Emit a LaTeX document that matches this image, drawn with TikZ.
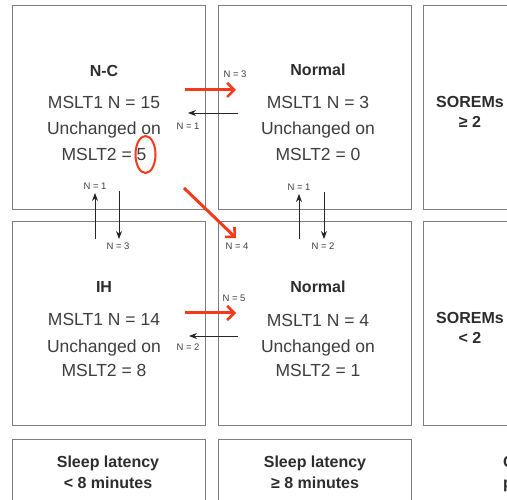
\documentclass[tikz,border=0pt]{standalone}
\usepackage{fontspec}
\setmainfont{Liberation Sans}
\usetikzlibrary{arrows.meta}
\definecolor{boxc}{RGB}{125,125,125}
\definecolor{txt}{RGB}{62,62,62}
\definecolor{ttlc}{RGB}{45,45,45}
\definecolor{redc}{RGB}{245,58,28}
\begin{document}
\begin{tikzpicture}[x=1pt,y=-1pt,
 cell/.style={draw=boxc,line width=1pt},
 ttl/.style={font=\fontsize{16}{18}\selectfont\bfseries,text=ttlc,anchor=base,inner sep=0pt},
 body/.style={font=\fontsize{17.5}{20}\selectfont,text=txt,anchor=base,inner sep=0pt},
 lbl/.style={font=\fontsize{9.5}{10}\selectfont,text=txt,anchor=base,inner sep=0pt},
 redarr/.style={draw=redc,line width=3pt,-{Straight Barb[length=7pt,width=14pt,line width=2.6pt]}},
 blkarr/.style={draw=black!85,line width=0.8pt,-{Stealth[length=8pt,width=6pt]}}]
\useasboundingbox (0,0) rectangle (507,500);
\fill[white] (0,0) rectangle (507,500);
% cells
\draw[cell] (12,6) rectangle (205,210);
\draw[cell] (218,6) rectangle (411,210);
\draw[cell] (423,6) rectangle (620,210);
\draw[cell] (12,222) rectangle (205,426);
\draw[cell] (218,222) rectangle (411,426);
\draw[cell] (423,222) rectangle (620,426);
\draw[cell] (12,439) rectangle (205,520);
\draw[cell] (218,439) rectangle (411,520);
% box A
\node[ttl]  (aT) at (104,76.7) {N-C};
\node[body] (a1) at (104,108.3) {MSLT1 N = 15};
\node[body] (a2) at (104,135) {Unchanged on};
\node[body] (a3) at (104,160.3) {MSLT2 = 5};
% box B
\node[ttl]  (bT) at (318,76) {Normal};
\node[body] (b1) at (318,108.3) {MSLT1 N = 3};
\node[body] (b2) at (318,135) {Unchanged on};
\node[body] (b3) at (318,160.3) {MSLT2 = 0};
% box D
\node[ttl]  (dT) at (104,292.7) {IH};
\node[body] (d1) at (104,325.3) {MSLT1 N = 14};
\node[body] (d2) at (104,352.5) {Unchanged on};
\node[body] (d3) at (104,376.3) {MSLT2 = 8};
% box E
\node[ttl]  (eT) at (318,292.7) {Normal};
\node[body] (e1) at (318,326.3) {MSLT1 N = 4};
\node[body] (e2) at (318,353) {Unchanged on};
\node[body] (e3) at (318,376.3) {MSLT2 = 1};
% SOREMs
\node[ttl] (c1) at (470,107.7) {SOREMs};
\node[ttl] (c2) at (470,127.7) {≥ 2};
\node[ttl] (f1) at (470,323.7) {SOREMs};
\node[ttl] (f2) at (470,343.7) {< 2};
% bottom row
\node[ttl] (g1) at (108,467.7) {Sleep latency};
\node[ttl] (g2) at (108,488.7) {< 8 minutes};
\node[ttl] (h1) at (315,467.7) {Sleep latency};
\node[ttl] (h2) at (315,488.7) {≥ 8 minutes};
\node[ttl,anchor=base west] (k1) at (503,467.7) {C};
\node[ttl,anchor=base west] (k2) at (503,488.7) {p};
% red circle
\draw[redc,line width=2pt] (145.5,154.5) ellipse [x radius=10,y radius=18.5];
% arrow coordinates
\coordinate (r1s) at (185,90);  \coordinate (r1e) at (236,90);
\coordinate (k1s) at (238,113); \coordinate (k1e) at (188,113);
\coordinate (r2s) at (184,188); \coordinate (r2e) at (236,238);
\coordinate (r3s) at (185,313); \coordinate (r3e) at (236,313);
\coordinate (k2s) at (238,336); \coordinate (k2e) at (189,336);
\coordinate (u1s) at (95,239);  \coordinate (u1e) at (95,193);
\coordinate (v1s) at (119,191); \coordinate (v1e) at (119,239);
\coordinate (u2s) at (299,239); \coordinate (u2e) at (299,194);
\coordinate (v2s) at (324,192); \coordinate (v2e) at (324,239);
% arrows
\draw[redarr] (r1s) -- (r1e);
\draw[redarr] (r2s) -- (r2e);
\draw[redarr] (r3s) -- (r3e);
\draw[blkarr] (k1s) -- (k1e);
\draw[blkarr] (k2s) -- (k2e);
\draw[blkarr] (u1s) -- (u1e);
\draw[blkarr] (v1s) -- (v1e);
\draw[blkarr] (u2s) -- (u2e);
\draw[blkarr] (v2s) -- (v2e);
% labels
\node[lbl] (l1) at (235,77.4) {N = 3};
\node[lbl] (l2) at (188,129.4) {N = 1};
\node[lbl] (l3) at (95,189.4) {N = 1};
\node[lbl] (l4) at (118,249.4) {N = 3};
\node[lbl] (l5) at (237,249.4) {N = 4};
\node[lbl] (l6) at (299,190.4) {N = 1};
\node[lbl] (l7) at (323,249.4) {N = 2};
\node[lbl] (l8) at (234,301.4) {N = 5};
\node[lbl] (l9) at (188,350.4) {N = 2};
\end{tikzpicture}
\end{document}
